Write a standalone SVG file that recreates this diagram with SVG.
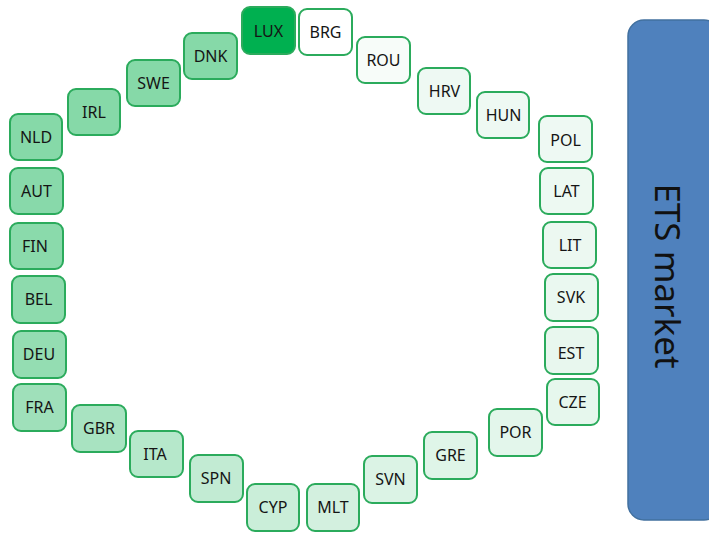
<svg xmlns="http://www.w3.org/2000/svg" width="709" height="537" viewBox="0 0 709 537">
<style>
.n rect{stroke:#2bab5c;stroke-width:2;}
.n text{font-family:"Noto Sans","Open Sans",sans-serif;font-size:16px;fill:#151515;text-anchor:middle;}
.ets text{font-family:"Noto Sans","Open Sans",sans-serif;font-size:35px;fill:#111;text-anchor:middle;}
</style>
<rect width="709" height="537" fill="#ffffff"/>
<g id="ets" class="ets">
<rect x="628" y="20" width="92" height="500" rx="16" fill="#4f81bd" stroke="#41709f" stroke-width="1.5"/>
<text transform="translate(655,276) rotate(90)">ETS market</text>
</g>
<g id="nodes">
<g id="LUX" class="n"><rect x="242" y="7" width="53" height="47" rx="8" fill="#00b050" stroke="#0a9f4a"/><text x="268.5" y="37">LUX</text></g>
<g id="BRG" class="n"><rect x="299" y="9" width="53" height="46" rx="8" fill="#ffffff"/><text x="325.5" y="38">BRG</text></g>
<g id="DNK" class="n"><rect x="184" y="33" width="53" height="46" rx="8" fill="#86d9a8"/><text x="210.5" y="62">DNK</text></g>
<g id="SWE" class="n"><rect x="127" y="60" width="53" height="46" rx="8" fill="#86d9a8"/><text x="153.5" y="89">SWE</text></g>
<g id="IRL" class="n"><rect x="68" y="89" width="52" height="46" rx="8" fill="#86d9a8"/><text x="94" y="118">IRL</text></g>
<g id="NLD" class="n"><rect x="10" y="114" width="52" height="46" rx="8" fill="#86d9a8"/><text x="36" y="143">NLD</text></g>
<g id="AUT" class="n"><rect x="10" y="168" width="53" height="46" rx="8" fill="#88d9aa"/><text x="36.5" y="197">AUT</text></g>
<g id="FIN" class="n"><rect x="10" y="223" width="53" height="46" rx="8" fill="#8adaab"/><text x="35" y="252">FIN</text></g>
<g id="BEL" class="n"><rect x="12" y="276" width="53" height="47" rx="8" fill="#8ddbad"/><text x="38.5" y="305">BEL</text></g>
<g id="DEU" class="n"><rect x="13" y="331" width="53" height="47" rx="8" fill="#94ddb2"/><text x="39" y="360">DEU</text></g>
<g id="FRA" class="n"><rect x="13" y="384" width="53" height="47" rx="8" fill="#9fe0ba"/><text x="39.5" y="413">FRA</text></g>
<g id="GBR" class="n"><rect x="72" y="405" width="54" height="47" rx="8" fill="#a8e3c1"/><text x="99" y="434">GBR</text></g>
<g id="ITA" class="n"><rect x="130" y="431" width="53" height="46" rx="8" fill="#b6e8cb"/><text x="155" y="460">ITA</text></g>
<g id="SPN" class="n"><rect x="190" y="455" width="53" height="47" rx="8" fill="#c2ebd3"/><text x="216" y="484">SPN</text></g>
<g id="CYP" class="n"><rect x="247" y="484" width="52" height="47" rx="8" fill="#caeed9"/><text x="273" y="513">CYP</text></g>
<g id="MLT" class="n"><rect x="307" y="484" width="52" height="47" rx="8" fill="#d3f0df"/><text x="333" y="513">MLT</text></g>
<g id="SVN" class="n"><rect x="364" y="456" width="53" height="47" rx="8" fill="#dbf3e5"/><text x="390.5" y="485">SVN</text></g>
<g id="GRE" class="n"><rect x="424" y="432" width="53" height="47" rx="8" fill="#dff5e8"/><text x="450.5" y="461">GRE</text></g>
<g id="POR" class="n"><rect x="489" y="409" width="53" height="47" rx="8" fill="#e3f6eb"/><text x="515.5" y="438">POR</text></g>
<g id="CZE" class="n"><rect x="547" y="379" width="52" height="46" rx="8" fill="#e6f7ed"/><text x="572.5" y="408">CZE</text></g>
<g id="EST" class="n"><rect x="545" y="327" width="53" height="47" rx="8" fill="#e8f7ee"/><text x="571" y="359">EST</text></g>
<g id="SVK" class="n"><rect x="545" y="274" width="53" height="47" rx="8" fill="#eaf8f0"/><text x="571" y="303">SVK</text></g>
<g id="LIT" class="n"><rect x="543" y="222" width="53" height="46" rx="8" fill="#ecf8f1"/><text x="570" y="251">LIT</text></g>
<g id="LAT" class="n"><rect x="540" y="168" width="53" height="46" rx="8" fill="#edf9f2"/><text x="566.5" y="197">LAT</text></g>
<g id="POL" class="n"><rect x="539" y="116" width="53" height="46" rx="8" fill="#eef9f3"/><text x="565.5" y="146">POL</text></g>
<g id="HUN" class="n"><rect x="477" y="92" width="52" height="46" rx="8" fill="#eef9f3"/><text x="503.5" y="121">HUN</text></g>
<g id="HRV" class="n"><rect x="418" y="68" width="52" height="46" rx="8" fill="#eef9f3"/><text x="444.5" y="97">HRV</text></g>
<g id="ROU" class="n"><rect x="357" y="37" width="53" height="46" rx="8" fill="#f7fcf9"/><text x="383.5" y="66">ROU</text></g>
</g>
<g id="connectors"></g>
</svg>
